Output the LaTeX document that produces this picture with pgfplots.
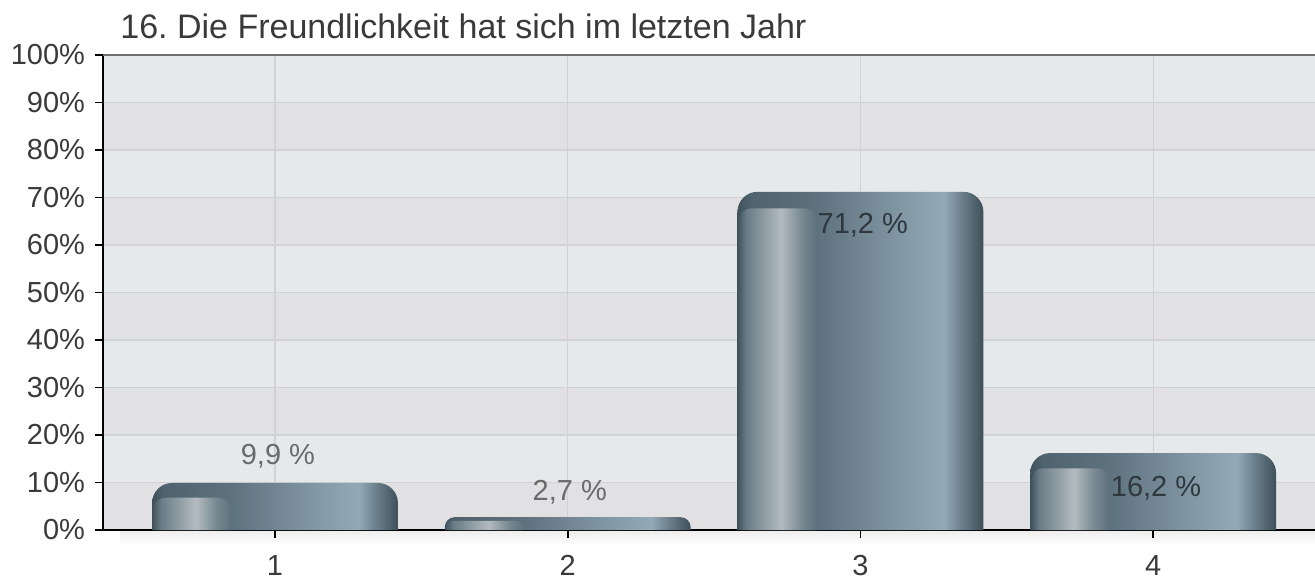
\documentclass[border=0pt]{standalone}
\usepackage{fontspec}
\setmainfont{Liberation Sans}
\usepackage{pgfplots}
\pgfplotsset{compat=1.18}
\definecolor{bggray}{HTML}{E1E1E3}
\definecolor{bglight}{HTML}{E6E9EC}
\definecolor{gridgray}{HTML}{D2D2D4}
\definecolor{txt}{HTML}{3A3A3A}
\definecolor{lbl}{HTML}{6A6A6A}
\definecolor{inlbl}{HTML}{2E383E}
\definecolor{topgray}{HTML}{6E6E6E}
\definecolor{bm0}{HTML}{3F525C}
\definecolor{bm1}{HTML}{4F636E}
\definecolor{bm2}{HTML}{5E727E}
\definecolor{bm3}{HTML}{7F95A1}
\definecolor{bm4}{HTML}{93A9B6}
\definecolor{bm5}{HTML}{6C808C}
\definecolor{bm6}{HTML}{3E4F58}
\definecolor{bh0}{HTML}{455862}
\definecolor{bh1}{HTML}{6A7C86}
\definecolor{bh2}{HTML}{B3BBC0}
\definecolor{bh3}{HTML}{768790}
\pgfdeclarehorizontalshading{barmain}{100bp}{color(0bp)=(bm0); color(25bp)=(bm0); color(27.5bp)=(bm1); color(41bp)=(bm2); color(57bp)=(bm3); color(67bp)=(bm4); color(70.5bp)=(bm5); color(75bp)=(bm6); color(100bp)=(bm6)}
\pgfdeclarehorizontalshading{barhigh}{100bp}{color(0bp)=(bh0); color(25bp)=(bh0); color(30bp)=(bh1); color(52.5bp)=(bh2); color(66bp)=(bh3); color(75bp)=(bm2); color(100bp)=(bm2)}
\begin{document}
\fontsize{14.5}{17}\selectfont
\begin{tikzpicture}
\begin{axis}[
  at={(0,0)}, anchor=south west,
  scale only axis, width=606pt, height=237.5pt,
  xmin=0.4124, xmax=4.553, ymin=0, ymax=100,
  set layers, clip mode=individual,
  axis x line=bottom, axis y line=left,
  axis line style={-, black, line width=0.8pt},
  xtick={1,2,3,4}, xticklabels={1,2,3,4},
  ytick={0,10,20,30,40,50,60,70,80,90,100},
  yticklabels={0\%,10\%,20\%,30\%,40\%,50\%,60\%,70\%,80\%,90\%,100\%},
  tick align=outside, major tick length=4pt,
  tick style={black, line width=0.8pt},
  tick label style={text=txt},
  xticklabel style={yshift=-3.5pt},
  grid=major, grid style={color=gridgray, line width=0.6pt},
  axis background/.style={fill=none},
]
\begin{pgfonlayer}{axis background}
\fill[bggray] (rel axis cs:0,0) rectangle (rel axis cs:1,1);
\fill[bglight] (rel axis cs:0,0.1) rectangle (rel axis cs:1,0.2);
\fill[bglight] (rel axis cs:0,0.3) rectangle (rel axis cs:1,0.4);
\fill[bglight] (rel axis cs:0,0.5) rectangle (rel axis cs:1,0.6);
\fill[bglight] (rel axis cs:0,0.7) rectangle (rel axis cs:1,0.8);
\fill[bglight] (rel axis cs:0,0.9) rectangle (rel axis cs:1,1);
\fill[top color=black!7, bottom color=white] ([yshift=-8pt]rel axis cs:0.014,0) rectangle (rel axis cs:1,0);
\end{pgfonlayer}
% bars
\addplot[draw=none, shade, shading=barmain, rounded corners=10pt] coordinates {(0.58,-10) (0.58,9.9) (1.42,9.9) (1.42,-10)} -- cycle;
\addplot[draw=none, shade, shading=barmain, rounded corners=5pt] coordinates {(1.58,-10) (1.58,2.7) (2.42,2.7) (2.42,-10)} -- cycle;
\addplot[draw=none, shade, shading=barmain, rounded corners=10pt] coordinates {(2.58,-10) (2.58,71.2) (3.42,71.2) (3.42,-10)} -- cycle;
\addplot[draw=none, shade, shading=barmain, rounded corners=10pt] coordinates {(3.58,-10) (3.58,16.2) (4.42,16.2) (4.42,-10)} -- cycle;
% highlights
\addplot[draw=none, shade, shading=barhigh, rounded corners=6pt] coordinates {(0.584,-10) (0.584,6.8) (0.849,6.8) (0.849,-10)} -- cycle;
\addplot[draw=none, shade, shading=barhigh, rounded corners=3pt] coordinates {(1.584,-10) (1.584,1.9) (1.849,1.9) (1.849,-10)} -- cycle;
\addplot[draw=none, shade, shading=barhigh, rounded corners=6pt] coordinates {(2.584,-10) (2.584,67.7) (2.849,67.7) (2.849,-10)} -- cycle;
\addplot[draw=none, shade, shading=barhigh, rounded corners=6pt] coordinates {(3.584,-10) (3.584,13.0) (3.849,13.0) (3.849,-10)} -- cycle;
% value labels
\node[anchor=base, text=lbl] at (axis cs:1.01,13.7) {9,9 \%};
\node[anchor=base, text=lbl] at (axis cs:2.007,6.3) {2,7 \%};
\node[anchor=base, text=inlbl] at (axis cs:3.008,62.5) {71,2 \%};
\node[anchor=base, text=inlbl] at (axis cs:4.01,6.95) {16,2 \%};
\begin{pgfonlayer}{axis foreground}
\draw[topgray, line width=0.8pt] (rel axis cs:0,1) -- (rel axis cs:1,1);
\end{pgfonlayer}
\node[anchor=base west, text=txt, inner xsep=0pt, font=\fontsize{17}{20}\selectfont] at ([xshift=8.5pt,yshift=8.5pt]rel axis cs:0,1) {16.\ Die Freundlichkeit hat sich im letzten Jahr};
\end{axis}
\pgfresetboundingbox
\useasboundingbox (-51.5pt,-25pt) rectangle (606pt,265pt);
\end{tikzpicture}
\end{document}
